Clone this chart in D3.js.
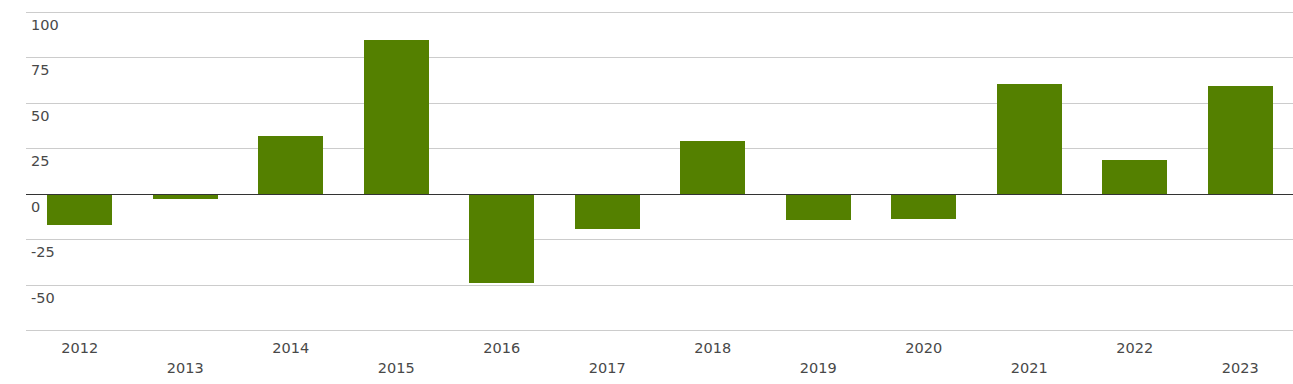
<!DOCTYPE html>
<html>
<head>
<meta charset="utf-8">
<script src="https://cdn.jsdelivr.net/npm/d3@7"></script>
<style>
	body { margin: 0; background: #fff; }
	text { font-family: "DejaVu Sans", sans-serif; }
</style>
</head>
<body>
<div id="chart-area"></div>
<script>
var years = ['2012', '2013', '2014', '2015', '2016', '2017', '2018', '2019', '2020', '2021', '2022', '2023'];
var values = [-16.9, -2.6, 31.9, 84.8, -48.8, -19.1, 29.2, -14.1, -13.6, 60.5, 18.7, 59.4];
var yTicks = [100, 75, 50, 25, 0, -25, -50, -75];
var yTickLabels = ['100', '75', '50', '25', '0', '-25', '-50', ''];

var width = 1293;
var height = 384;
var margin = { top: 12.5, bottom: 53.5, left: 26, right: 0 };

var svg = d3.select('#chart-area').append('svg')
	.attr('width', width)
	.attr('height', height);

var x = d3.scaleBand().domain(years)
	.range([margin.left + 1, width - margin.right])
	.paddingInner(0.38).paddingOuter(0.19);
var y = d3.scaleLinear().domain([-75, 100])
	.range([height - margin.bottom - 0.5, margin.top - 0.5]);

// grid lines
svg.append('g').selectAll('line').data(yTicks.filter(d => d != 0))
	.enter().append('line')
		.attr('x1', margin.left)
		.attr('x2', width)
		.attr('y1', d => Math.round(y(d)) + 0.5)
		.attr('y2', d => Math.round(y(d)) + 0.5)
		.attr('stroke', '#cccccc')
		.attr('stroke-width', 1);

// y labels sit below their line
svg.append('g').selectAll('text').data(yTicks)
	.enter().append('text')
		.attr('x', 31)
		.attr('y', d => Math.round(y(d)) + 18)
		.attr('font-size', '14.5px')
		.attr('fill', '#484848')
		.text((d, i) => yTickLabels[i]);

// bars
svg.append('g').selectAll('rect').data(values)
	.enter().append('rect')
		.attr('x', (d, i) => Math.round(x(years[i])))
		.attr('width', Math.round(x.bandwidth()))
		.attr('y', d => Math.round(y(Math.max(0, d))))
		.attr('height', d => Math.round(Math.abs(y(d) - y(0))))
		.attr('fill', '#548000');

// zero line
svg.append('line')
	.attr('x1', margin.left)
	.attr('x2', width)
	.attr('y1', Math.round(y(0)) + 0.5)
	.attr('y2', Math.round(y(0)) + 0.5)
	.attr('stroke', '#333')
	.attr('stroke-width', 1);

// x labels, staggered in two rows
svg.append('g').selectAll('text').data(years)
	.enter().append('text')
		.attr('x', d => x(d) + x.bandwidth() / 2)
		.attr('y', (d, i) => i % 2 == 0 ? 353 : 373)
		.attr('text-anchor', 'middle')
		.attr('font-size', '14.5px')
		.attr('fill', '#484848')
		.text(d => d);
</script>
</body>
</html>
